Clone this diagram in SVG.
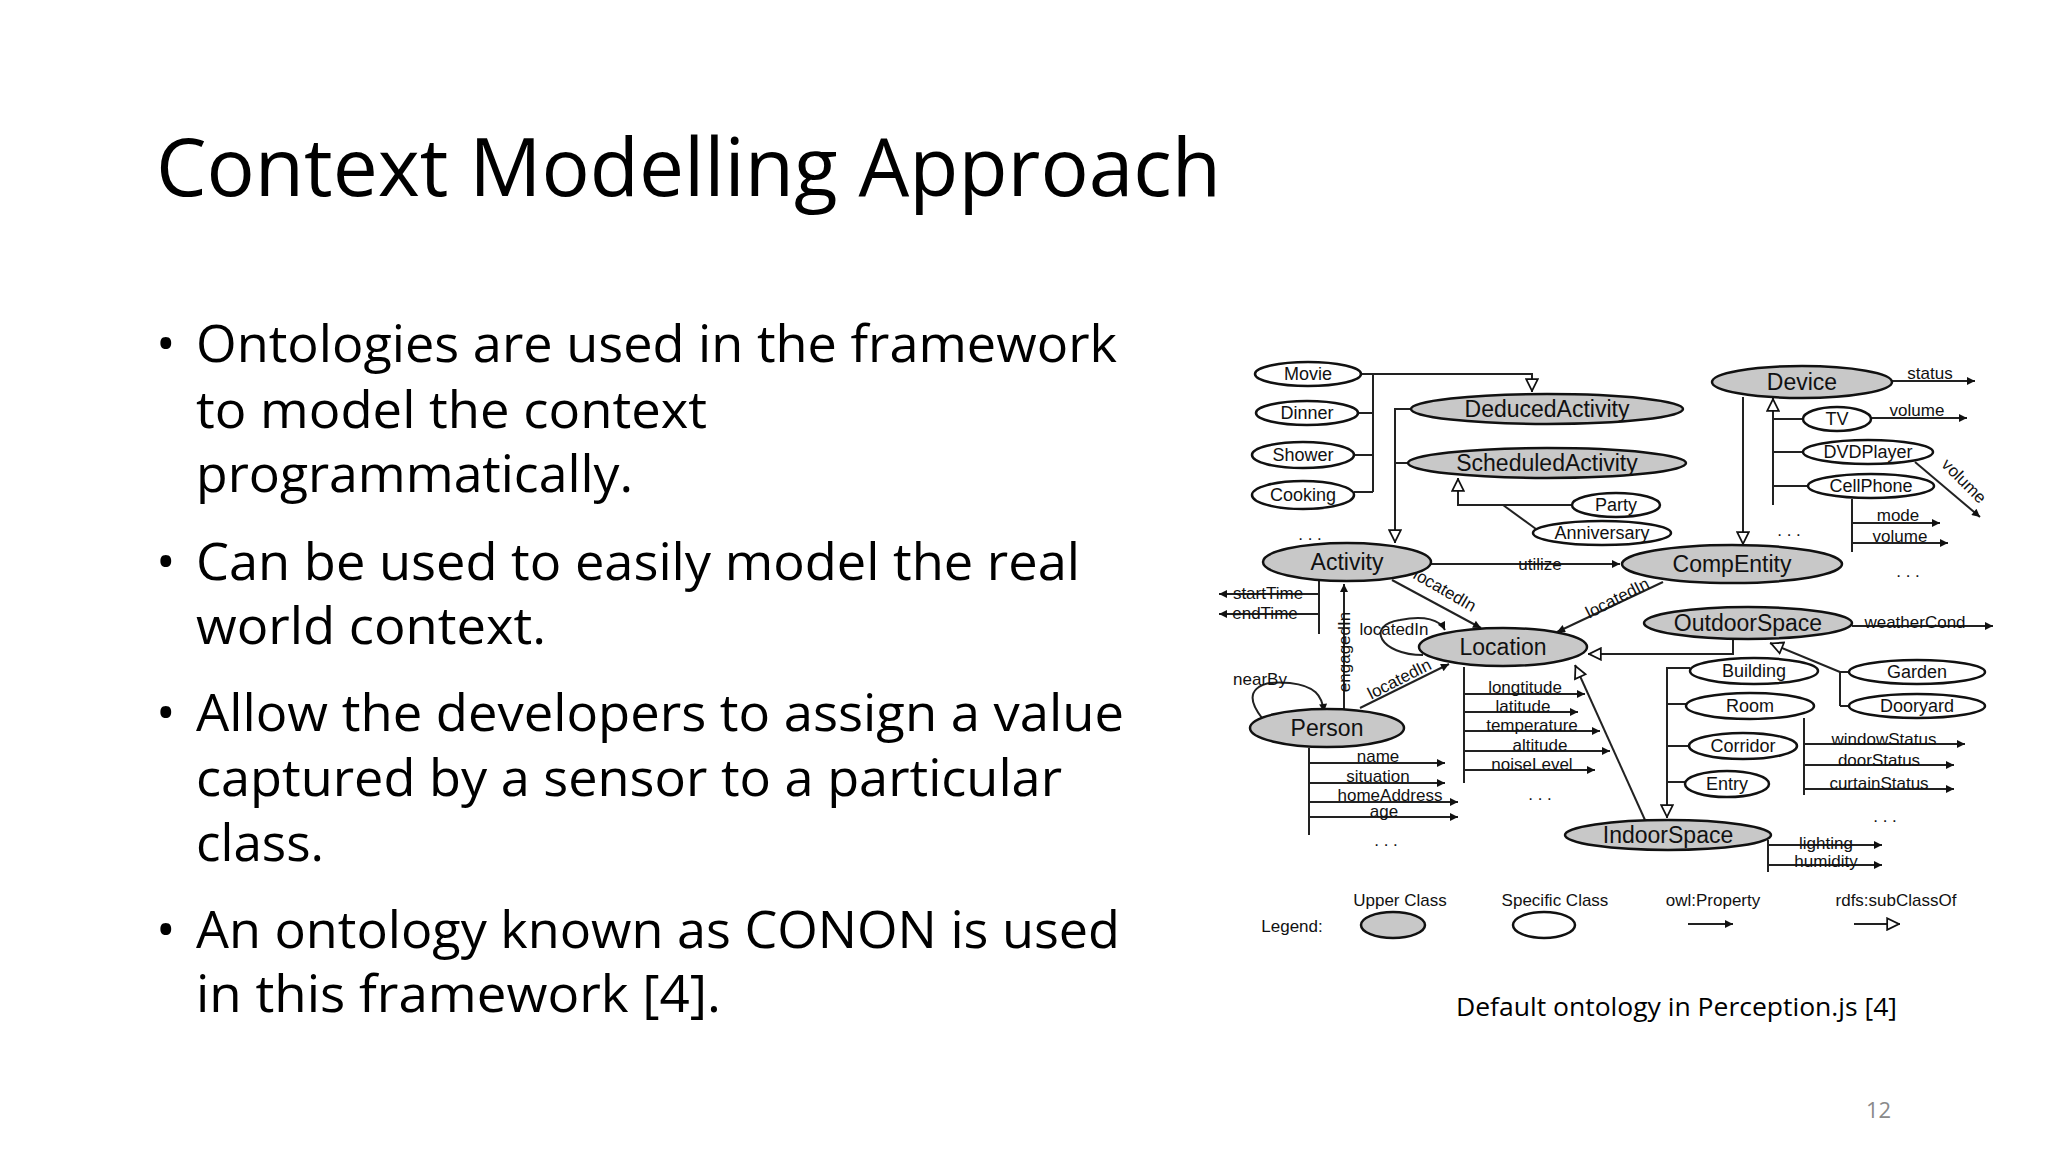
<svg xmlns="http://www.w3.org/2000/svg" width="2048" height="1152" viewBox="0 0 2048 1152">
<style>
.t{font-family:"Open Sans","Liberation Sans",sans-serif;fill:#000}
.d{font-family:"Liberation Sans",Arial,sans-serif;fill:#111}
.up{fill:#c8c8c8;stroke:#111;stroke-width:2.5}
.sp{fill:#fff;stroke:#111;stroke-width:2.5}
.un{font-size:23px;text-anchor:middle}
.sn{font-size:18px;text-anchor:middle}
.pl{font-size:17px;text-anchor:middle}
.l{stroke:#222;stroke-width:2;fill:none}
.p{stroke:#222;stroke-width:2;fill:none;marker-end:url(#fa)}
.s{stroke:#222;stroke-width:2;fill:none;marker-end:url(#ha)}
</style>
<defs>
<marker id="fa" viewBox="0 0 10 10" refX="10" refY="5" markerWidth="12" markerHeight="8" markerUnits="userSpaceOnUse" orient="auto"><path d="M0,0L10,5L0,10z" fill="#111"/></marker>
<marker id="ha" viewBox="0 0 12 12" refX="12" refY="6" markerWidth="14" markerHeight="14" markerUnits="userSpaceOnUse" orient="auto"><path d="M1,1L11,6L1,11z" fill="#fff" stroke="#111" stroke-width="1.5"/></marker>
</defs>
<rect width="2048" height="1152" fill="#fff"/>
<g id="title"><text class="t" x="156" y="196" font-size="80" textLength="1065" lengthAdjust="spacingAndGlyphs">Context Modelling Approach</text></g>
<g id="bullets" class="t" font-size="52">
<text x="156" y="362">•</text><text x="196" y="362" textLength="921" lengthAdjust="spacingAndGlyphs">Ontologies are used in the framework</text>
<text x="196" y="428" textLength="511" lengthAdjust="spacingAndGlyphs">to model the context</text>
<text x="196" y="492" textLength="437" lengthAdjust="spacingAndGlyphs">programmatically.</text>
<text x="156" y="580">•</text><text x="196" y="580" textLength="884" lengthAdjust="spacingAndGlyphs">Can be used to easily model the real</text>
<text x="196" y="644" textLength="350" lengthAdjust="spacingAndGlyphs">world context.</text>
<text x="156" y="731">•</text><text x="196" y="731" textLength="928" lengthAdjust="spacingAndGlyphs">Allow the developers to assign a value</text>
<text x="196" y="796" textLength="866" lengthAdjust="spacingAndGlyphs">captured by a sensor to a particular</text>
<text x="196" y="861" textLength="128" lengthAdjust="spacingAndGlyphs">class.</text>
<text x="156" y="948">•</text><text x="196" y="948" textLength="924" lengthAdjust="spacingAndGlyphs">An ontology known as CONON is used</text>
<text x="196" y="1012" textLength="525" lengthAdjust="spacingAndGlyphs">in this framework [4].</text>
</g>
<g id="caption"><text class="t" x="1471" y="1024" font-size="26" textLength="441" lengthAdjust="spacingAndGlyphs" transform="translate(-15,-8)">Default ontology in Perception.js [4]</text></g>
<g id="pagenum"><text class="t" x="1866" y="1118" font-size="22" style="fill:#8a8a8a">12</text></g>

<g id="connectors">
<path class="l" d="M1361,374H1373V492M1356,413H1373M1354,455H1373M1354,492H1373"/>
<path class="s" d="M1373,374H1532V392"/>
<path class="s" d="M1411,409H1395V543"/>
<path class="l" d="M1395,463H1408"/>
<path class="s" d="M1572,505H1458V478"/>
<path class="l" d="M1503,505L1536,529"/>
<path class="p" d="M1431,564H1620"/>
<text class="d pl" x="1540" y="570">utilize</text>
<path class="l" d="M1319,580V634"/>
<path class="p" d="M1319,594H1219"/>
<path class="p" d="M1319,614H1219"/>
<text class="d pl" x="1268" y="599">startTime</text>
<text class="d pl" x="1265" y="619">endTime</text>
<path class="p" d="M1344,709V584"/>
<text class="d pl" transform="translate(1350,652) rotate(-90)">engagedIn</text>
<path class="p" d="M1392,580L1481,628"/>
<text class="d pl" transform="translate(1442,595) rotate(30)">locatedIn</text>
<path class="p" d="M1423,655C1380,655 1365,625 1400,620C1425,615 1440,620 1445,630"/>
<text class="d pl" x="1394" y="635">locatedIn</text>
<path class="p" d="M1663,582L1557,632"/>
<text class="d pl" transform="translate(1620,603) rotate(-27)">locatedIn</text>
<path class="p" d="M1360,708L1449,664"/>
<text class="d pl" transform="translate(1402,684) rotate(-27)">locatedIn</text>
<path class="p" d="M1262,718C1240,690 1260,680 1290,683C1315,686 1322,695 1324,712"/>
<text class="d pl" x="1260" y="685">nearBy</text>
<path class="l" d="M1309,748V835"/>
<path class="p" d="M1309,763H1445"/><text class="d pl" x="1378" y="762">name</text>
<path class="p" d="M1309,783H1445"/><text class="d pl" x="1378" y="782">situation</text>
<path class="p" d="M1309,802H1458"/><text class="d pl" x="1390" y="801" font-size="14">homeAddress</text>
<path class="p" d="M1309,817H1458"/><text class="d pl" x="1384" y="817">age</text>
<text class="d pl" x="1386" y="846">. . .</text>
<path class="l" d="M1464,667V783"/>
<path class="p" d="M1464,694H1585"/><text class="d pl" x="1525" y="693">longtitude</text>
<path class="p" d="M1464,712H1578"/><text class="d pl" x="1523" y="712">latitude</text>
<path class="p" d="M1464,731H1600"/><text class="d pl" x="1532" y="731">temperature</text>
<path class="p" d="M1464,751H1610"/><text class="d pl" x="1540" y="751">altitude</text>
<path class="p" d="M1464,770H1595"/><text class="d pl" x="1532" y="770">noiseLevel</text>
<text class="d pl" x="1540" y="800">. . .</text>
<path class="p" d="M1890,381H1975"/><text class="d pl" x="1930" y="379">status</text>
<path class="s" d="M1743,397V545"/>
<path class="s" d="M1773,505V398"/>
<path class="l" d="M1773,419H1803M1773,452H1803M1773,486H1808"/>
<path class="p" d="M1871,418H1967"/><text class="d pl" x="1917" y="416">volume</text>
<path class="p" d="M1915,462L1980,517"/>
<text class="d pl" transform="translate(1960,485) rotate(45)">volume</text>
<path class="l" d="M1852,499V552"/>
<path class="p" d="M1852,523H1940"/><text class="d pl" x="1898" y="521">mode</text>
<path class="p" d="M1852,543H1948"/><text class="d pl" x="1900" y="542">volume</text>
<text class="d pl" x="1789" y="536">. . .</text>
<text class="d pl" x="1908" y="577">. . .</text>
<path class="p" d="M1852,626H1993"/><text class="d pl" x="1915" y="628">weatherCond</text>
<path class="s" d="M1733,638V654H1588"/>
<path class="s" d="M1840,706V672L1770,643"/>
<path class="l" d="M1840,706H1849M1840,672H1849"/>
<path class="s" d="M1690,668H1667V818"/>
<path class="l" d="M1667,704H1686M1667,746H1689M1667,782H1685"/>
<path class="l" d="M1804,718V795"/>
<path class="p" d="M1804,744H1965"/><text class="d pl" x="1884" y="745">windowStatus</text>
<path class="p" d="M1804,765H1954"/><text class="d pl" x="1879" y="766">doorStatus</text>
<path class="p" d="M1804,789H1954"/><text class="d pl" x="1879" y="789">curtainStatus</text>
<text class="d pl" x="1885" y="822">. . .</text>
<path class="s" d="M1645,820L1575,665"/>
<path class="l" d="M1768,840V872"/>
<path class="p" d="M1768,845H1882"/><text class="d pl" x="1826" y="849">lighting</text>
<path class="p" d="M1768,865H1882"/><text class="d pl" x="1826" y="867">humidity</text>
<text class="d pl" x="1310" y="540">. . .</text>
</g>

<g id="Movie"><ellipse class="sp" cx="1308" cy="374" rx="53" ry="12"/><text class="d sn" x="1308" y="380">Movie</text></g>
<g id="Dinner"><ellipse class="sp" cx="1307" cy="413" rx="51" ry="12"/><text class="d sn" x="1307" y="419">Dinner</text></g>
<g id="Shower"><ellipse class="sp" cx="1303" cy="455" rx="51" ry="13"/><text class="d sn" x="1303" y="461">Shower</text></g>
<g id="Cooking"><ellipse class="sp" cx="1303" cy="495" rx="51" ry="14"/><text class="d sn" x="1303" y="501">Cooking</text></g>
<g id="DeducedActivity"><ellipse class="up" cx="1547" cy="409" rx="136" ry="15"/><text class="d un" x="1547" y="417">DeducedActivity</text></g>
<g id="ScheduledActivity"><ellipse class="up" cx="1547" cy="463" rx="139" ry="15"/><text class="d un" x="1547" y="471">ScheduledActivity</text></g>
<g id="Party"><ellipse class="sp" cx="1616" cy="505" rx="44" ry="12"/><text class="d sn" x="1616" y="511">Party</text></g>
<g id="Anniversary"><ellipse class="sp" cx="1602" cy="533" rx="69" ry="12"/><text class="d sn" x="1602" y="539">Anniversary</text></g>
<g id="Activity"><ellipse class="up" cx="1347" cy="562" rx="84" ry="19"/><text class="d un" x="1347" y="570">Activity</text></g>
<g id="CompEntity"><ellipse class="up" cx="1732" cy="564" rx="110" ry="19"/><text class="d un" x="1732" y="572">CompEntity</text></g>
<g id="Device"><ellipse class="up" cx="1802" cy="382" rx="90" ry="16"/><text class="d un" x="1802" y="390">Device</text></g>
<g id="TV"><ellipse class="sp" cx="1837" cy="419" rx="34" ry="12"/><text class="d sn" x="1837" y="425">TV</text></g>
<g id="DVDPlayer"><ellipse class="sp" cx="1868" cy="452" rx="65" ry="12"/><text class="d sn" x="1868" y="458">DVDPlayer</text></g>
<g id="CellPhone"><ellipse class="sp" cx="1871" cy="486" rx="63" ry="12"/><text class="d sn" x="1871" y="492">CellPhone</text></g>
<g id="OutdoorSpace"><ellipse class="up" cx="1748" cy="623" rx="104" ry="16"/><text class="d un" x="1748" y="631">OutdoorSpace</text></g>
<g id="Location"><ellipse class="up" cx="1503" cy="647" rx="84" ry="19"/><text class="d un" x="1503" y="655">Location</text></g>
<g id="Person"><ellipse class="up" cx="1327" cy="728" rx="77" ry="19"/><text class="d un" x="1327" y="736">Person</text></g>
<g id="Building"><ellipse class="sp" cx="1754" cy="671" rx="64" ry="13"/><text class="d sn" x="1754" y="677">Building</text></g>
<g id="Room"><ellipse class="sp" cx="1750" cy="706" rx="64" ry="13"/><text class="d sn" x="1750" y="712">Room</text></g>
<g id="Corridor"><ellipse class="sp" cx="1743" cy="746" rx="54" ry="13"/><text class="d sn" x="1743" y="752">Corridor</text></g>
<g id="Entry"><ellipse class="sp" cx="1727" cy="784" rx="42" ry="13"/><text class="d sn" x="1727" y="790">Entry</text></g>
<g id="Garden"><ellipse class="sp" cx="1917" cy="672" rx="68" ry="12"/><text class="d sn" x="1917" y="678">Garden</text></g>
<g id="Dooryard"><ellipse class="sp" cx="1917" cy="706" rx="68" ry="12"/><text class="d sn" x="1917" y="712">Dooryard</text></g>
<g id="IndoorSpace"><ellipse class="up" cx="1668" cy="835" rx="103" ry="15"/><text class="d un" x="1668" y="843">IndoorSpace</text></g>
<g id="legend">
<text class="d" x="1292" y="932" font-size="17" text-anchor="middle">Legend:</text>
<text class="d" x="1400" y="906" font-size="17" text-anchor="middle">Upper Class</text>
<ellipse class="up" cx="1393" cy="925" rx="32" ry="13"/>
<text class="d" x="1555" y="906" font-size="17" text-anchor="middle">Specific Class</text>
<ellipse class="sp" cx="1544" cy="925" rx="31" ry="13"/>
<text class="d" x="1713" y="906" font-size="17" text-anchor="middle">owl:Property</text>
<path class="p" d="M1688,924H1733"/>
<text class="d" x="1896" y="906" font-size="17" text-anchor="middle">rdfs:subClassOf</text>
<path class="s" d="M1854,924H1900"/>
</g>
</svg>
